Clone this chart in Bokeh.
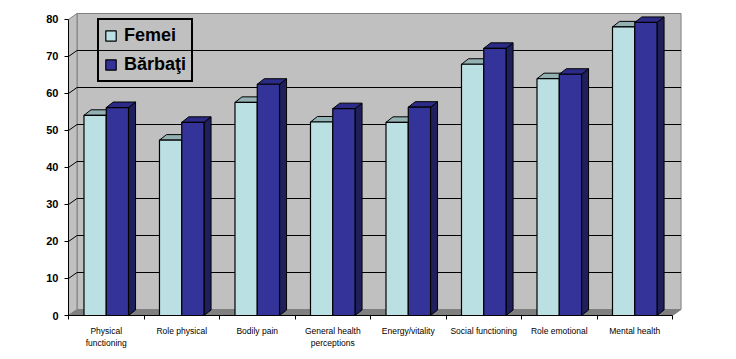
from bokeh.plotting import figure
from bokeh.models import Range1d, FixedTicker, Legend, LegendItem
from bokeh.embed import file_html
from bokeh.resources import INLINE

# ---- data ----
categories = ["Physical\nfunctioning", "Role physical", "Bodily pain",
              "General health\nperceptions", "Energy/vitality",
              "Social functioning", "Role emotional", "Mental health"]
femei = [54.1, 47.4, 57.6, 52.3, 52.2, 67.9, 64.0, 78.0]
barbati = [56.2, 52.2, 62.5, 55.9, 56.3, 72.2, 65.2, 79.2]
series_names = ["Femei", "Bărbaţi"]
y_ticks = [0, 10, 20, 30, 40, 50, 60, 70, 80]

# ---- style / geometry (in axis units) ----
BAR_OFF = [0.205, 0.5]
BAR_W = 0.295
BAR_DX, BAR_DY = 0.093, 1.49
WALL_DX, WALL_DY = 0.113, 1.62
FRONT = ["#BBE0E3", "#333399"]
TOP = ["#93B0B2", "#2C2C88"]
SIDE = ["#7E9A9C", "#1F1F5C"]
FONT = "Liberation Sans"

n = len(categories)
ymax = y_ticks[-1]

p = figure(width=736, height=355, output_backend="svg", toolbar_location=None,
           x_range=Range1d(0, 8.238), y_range=Range1d(0, 81.89),
           min_border_left=68, min_border_right=46, min_border_top=12,
           min_border_bottom=40)
p.outline_line_color = None
p.grid.visible = False
p.background_fill_color = "white"
p.border_fill_color = "white"

# walls and floor
p.quad(left=WALL_DX, right=n + WALL_DX, bottom=WALL_DY, top=ymax + WALL_DY,
       fill_color="#C0C0C0", line_color="#808080", line_width=1)
p.patch([0, WALL_DX, WALL_DX, 0], [0, WALL_DY, ymax + WALL_DY, ymax],
        fill_color="#C0C0C0", line_color="#808080", line_width=1)
p.patch([0, n, n + WALL_DX, WALL_DX], [0, 0, WALL_DY, WALL_DY],
        fill_color="#808080", line_color="#808080", line_width=1)

# gridlines (side wall + back wall)
gx, gy = [], []
for t in y_ticks[1:-1]:
    gx.append([0, WALL_DX, n + WALL_DX])
    gy.append([t, t + WALL_DY, t + WALL_DY])
p.multi_line(gx, gy, line_color="black", line_width=1)

# bars
fronts = []
for s, vals in enumerate([femei, barbati]):
    sx, sy, tx, ty = [], [], [], []
    left, right = [], []
    for i, v in enumerate(vals):
        x0 = i + BAR_OFF[s]
        x1 = x0 + BAR_W
        left.append(x0)
        right.append(x1)
        sx.append([x1, x1 + BAR_DX, x1 + BAR_DX, x1])
        sy.append([0, BAR_DY, v + BAR_DY, v])
        tx.append([x0, x1, x1 + BAR_DX, x0 + BAR_DX])
        ty.append([v, v, v + BAR_DY, v + BAR_DY])
    p.patches(sx, sy, fill_color=SIDE[s], line_color="black", line_width=1)
    p.patches(tx, ty, fill_color=TOP[s], line_color="black", line_width=1)
    r = p.quad(left=left, right=right, bottom=0, top=vals,
               fill_color=FRONT[s], line_color="black", line_width=1.2)
    fronts.append(r)

# y axis
ya = p.yaxis[0]
ya.ticker = FixedTicker(ticks=y_ticks)
ya.bounds = (0, ymax)
ya.axis_line_color = "black"
ya.major_tick_out = 4
ya.major_tick_in = 0
ya.minor_tick_line_color = None
ya.major_label_standoff = 6
ya.major_label_text_font = FONT
ya.major_label_text_font_size = "11px"
ya.major_label_text_font_style = "bold"
ya.major_label_text_color = "black"

# x axis
xa = p.xaxis[0]
centers = [i + 0.5 for i in range(n)]
xa.ticker = FixedTicker(ticks=centers, minor_ticks=list(range(n + 1)))
xa.bounds = (0, n)
xa.major_label_overrides = {c: lab for c, lab in zip(centers, categories)}
xa.axis_line_color = "black"
xa.major_tick_line_color = None
xa.major_tick_out = 0
xa.major_tick_in = 0
xa.minor_tick_out = 4
xa.minor_tick_in = 0
xa.minor_tick_line_color = "black"
xa.major_label_standoff = 6
xa.major_label_text_font = FONT
xa.major_label_text_font_size = "8.5px"
xa.major_label_text_line_height = 1.25
xa.major_label_text_color = "black"

legend = Legend(items=[LegendItem(label=series_names[k], renderers=[fronts[k]])
                       for k in range(2)],
                location=(29, 233), orientation="vertical",
                background_fill_alpha=0, border_line_color="black",
                border_line_alpha=1.0,
                border_line_width=2, glyph_width=13, glyph_height=13,
                label_text_font=FONT, label_text_font_size="18px",
                label_text_font_style="bold", label_text_color="black",
                label_standoff=7, padding=5, spacing=8, margin=0)
p.add_layout(legend)

open("out.html", "w").write(file_html(p, INLINE))
